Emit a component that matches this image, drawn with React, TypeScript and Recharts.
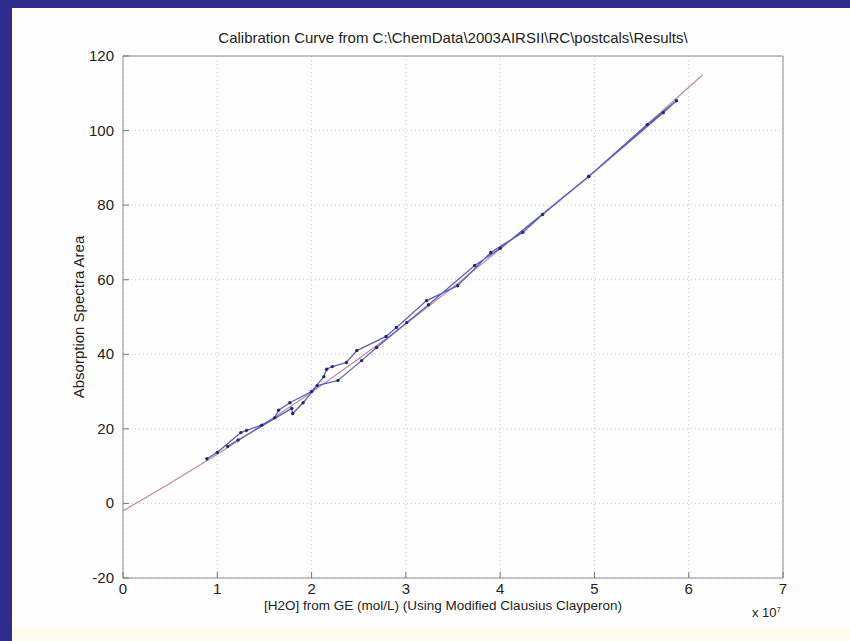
import { ScatterChart, Scatter, XAxis, YAxis, CartesianGrid } from "recharts";

// measured points, in the order they were plotted (x in units of 1e7 mol/L)
const measX = [
  0.89, 1.0, 1.25, 1.31, 1.47, 1.61, 1.65, 1.77, 2.0, 2.13, 2.16, 2.22, 2.37, 2.48, 2.79, 2.9,
  3.22, 3.55, 3.9, 4.24, 4.45, 4.94, 5.56, 5.87,
  5.73, 4.94, 4.0, 3.73, 3.24, 3.01, 2.69, 2.53, 2.28, 2.06, 1.91, 1.8, 1.79, 1.22, 1.11,
];
const measY = [
  12, 13.7, 19, 19.6, 21, 23, 25, 27, 30, 34, 36, 36.7, 37.8, 41, 44.8, 47.2,
  54.4, 58.4, 67.3, 72.7, 77.5, 87.7, 101.6, 108,
  104.8, 87.7, 68.4, 63.8, 53.3, 48.5, 41.8, 38.3, 33, 31.6, 27, 24.1, 25.5, 17, 15.3,
];

// calibration fit curve
const fitX = [0, 0.5, 1, 1.5, 2, 2.5, 3, 3.5, 4, 4.5, 5, 5.5, 6, 6.15];
const fitY = [-2, 5.4, 13.2, 21.3, 29.8, 38.8, 48.1, 58, 68.2, 78.6, 89, 100.3, 111.6, 115];

const xTicks = [0, 1, 2, 3, 4, 5, 6, 7];
const yTicks = [-20, 0, 20, 40, 60, 80, 100, 120];

const measData = measX.map((x, i) => ({ x, y: measY[i] }));
const fitData = fitX.map((x, i) => ({ x, y: fitY[i] }));

const FONT = "'Liberation Sans', Arial, sans-serif";
const TICK_COLOR = "#777";

const BottomTick = ({ x, y, payload }: any) => (
  <g>
    <line x1={x} y1={y} x2={x} y2={y - 6} stroke={TICK_COLOR} />
    <text x={x} y={y + 16} textAnchor="middle" fontSize={15} fontFamily={FONT} fill="#222">
      {payload.value}
    </text>
  </g>
);
const TopTick = ({ x, y }: any) => <line x1={x} y1={y} x2={x} y2={y + 6} stroke={TICK_COLOR} />;
const LeftTick = ({ x, y, payload }: any) => (
  <g>
    <line x1={x} y1={y} x2={x + 6} y2={y} stroke={TICK_COLOR} />
    <text x={x - 9} y={y + 5} textAnchor="end" fontSize={15} fontFamily={FONT} fill="#222">
      {payload.value}
    </text>
  </g>
);
const RightTick = ({ x, y }: any) => <line x1={x} y1={y} x2={x - 6} y2={y} stroke={TICK_COLOR} />;

const Dot = (p: any) => <circle cx={p.cx} cy={p.cy} r={1.7} fill="#26266e" />;
const NoDot = () => <g />;

export default function App() {
  return (
    <div style={{ position: "absolute", left: 0, top: 0, width: 850, height: 641, background: "#fefefe", overflow: "hidden" }}>
      <div style={{ position: "absolute", left: 0, top: 0, width: 850, height: 8, background: "#2e2c8c" }} />
      <div style={{ position: "absolute", left: 0, top: 0, width: 12, height: 641, background: "#2e2c8c" }} />
      <div style={{ position: "absolute", left: 12, top: 629, width: 838, height: 12, background: "#fbfbee" }} />

      <div style={{ position: "absolute", left: 0, top: 0 }}>
        <ScatterChart width={850} height={641} margin={{ top: 55, right: 66, bottom: 62, left: 122 }}>
          <CartesianGrid xAxisId="b" yAxisId="l" stroke="#c8c8c8" strokeDasharray="1 3" />
          <XAxis
            xAxisId="b"
            dataKey="x"
            type="number"
            domain={[0, 7]}
            ticks={xTicks}
            orientation="bottom"
            height={1}
            tickSize={0}
            tickMargin={0}
            tick={BottomTick}
            tickLine={false}
            axisLine={{ stroke: "#8a8a8a" }}
            interval={0}
          />
          <XAxis
            xAxisId="t"
            type="number"
            domain={[0, 7]}
            ticks={xTicks}
            orientation="top"
            height={1}
            tickSize={0}
            tickMargin={0}
            tick={TopTick}
            tickLine={false}
            axisLine={{ stroke: "#8a8a8a" }}
            interval={0}
          />
          <YAxis
            yAxisId="l"
            dataKey="y"
            type="number"
            domain={[-20, 120]}
            ticks={yTicks}
            orientation="left"
            width={1}
            tickSize={0}
            tickMargin={0}
            tick={LeftTick}
            tickLine={false}
            axisLine={{ stroke: "#8a8a8a" }}
            interval={0}
          />
          <YAxis
            yAxisId="r"
            type="number"
            domain={[-20, 120]}
            ticks={yTicks}
            orientation="right"
            width={1}
            tickSize={0}
            tickMargin={0}
            tick={RightTick}
            tickLine={false}
            axisLine={{ stroke: "#8a8a8a" }}
            interval={0}
          />
          <Scatter
            xAxisId="b"
            yAxisId="l"
            data={fitData}
            line={{ stroke: "#b58f9c", strokeWidth: 1.2 }}
            shape={NoDot}
            isAnimationActive={false}
          />
          <Scatter
            xAxisId="b"
            yAxisId="l"
            data={measData}
            line={{ stroke: "#5f5fbe", strokeWidth: 1.3 }}
            shape={Dot}
            isAnimationActive={false}
          />
        </ScatterChart>
      </div>

      <div style={{ position: "absolute", left: 123, width: 660, top: 29, textAlign: "center", fontFamily: FONT, fontSize: 15, color: "#222" }}>
        Calibration Curve from C:\ChemData\2003AIRSII\RC\postcals\Results\
      </div>
      <div style={{ position: "absolute", left: 123, width: 660, top: 598, textAlign: "center", fontFamily: FONT, fontSize: 13.5, color: "#222", paddingRight: 20, boxSizing: "border-box" }}>
        [H2O] from GE (mol/L) (Using Modified Clausius Clayperon)
      </div>
      <div style={{ position: "absolute", left: 752, top: 605, fontFamily: FONT, fontSize: 13, color: "#222" }}>
        x 10<sup style={{ fontSize: 8 }}>7</sup>
      </div>
      <div style={{ position: "absolute", left: 78, top: 317, width: 0, height: 0 }}>
        <div style={{ position: "absolute", transform: "translate(-50%, -50%) rotate(-90deg)", whiteSpace: "nowrap", fontFamily: FONT, fontSize: 15, color: "#222" }}>
          Absorption Spectra Area
        </div>
      </div>
    </div>
  );
}
